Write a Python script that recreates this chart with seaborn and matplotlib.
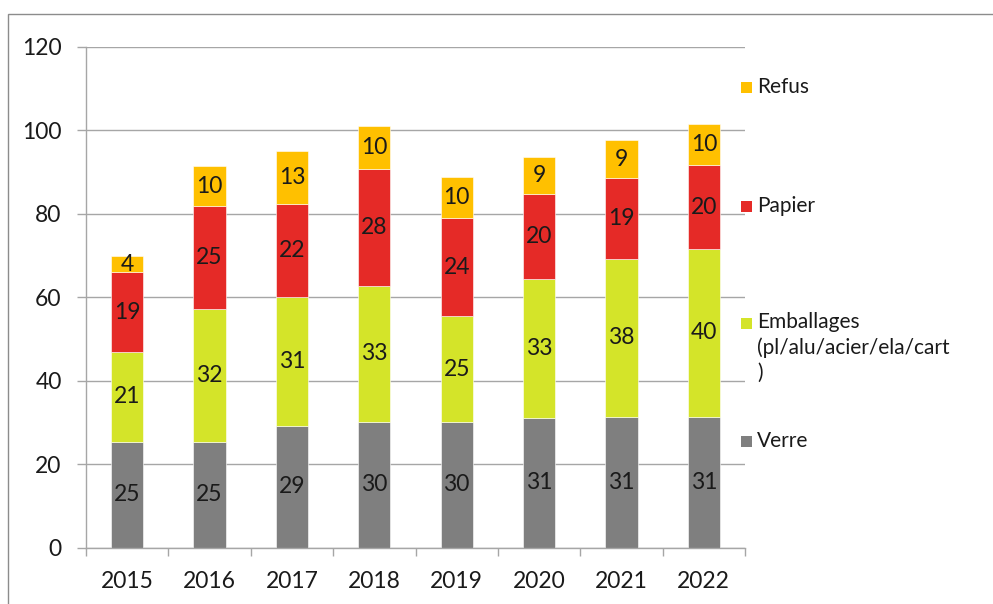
import matplotlib
matplotlib.use("Agg")
import matplotlib.pyplot as plt
import seaborn as sns
import pandas as pd
import numpy as np
from matplotlib.patches import Rectangle

years = ["2015", "2016", "2017", "2018", "2019", "2020", "2021", "2022"]
verre = [25.4, 25.4, 29.2, 30.2, 30.2, 31.1, 31.4, 31.4]
emballages = [21.4, 31.8, 30.8, 32.6, 25.2, 33.2, 37.7, 40.2]
papier = [19.3, 24.6, 22.4, 27.9, 23.6, 20.5, 19.4, 20.0]
refus = [3.7, 9.6, 12.6, 10.4, 9.8, 8.9, 9.2, 9.8]

series_names = ["Verre", "Emballages\n(pl/alu/acier/ela/cart\n)", "Papier", "Refus"]
series_vals = [verre, emballages, papier, refus]
colors = ["#7f7f7f", "#d4e429", "#e52a27", "#ffc000"]

sns.set_theme(style="white")
plt.rcParams["font.family"] = ["Lato", "DejaVu Sans"]

fig = plt.figure(figsize=(9.93, 6.04), dpi=100)
ax = fig.add_axes([86 / 993, 1 - 547.7 / 604, (745 - 86) / 993, (547.7 - 46.7) / 604])

df = pd.DataFrame({"year": years})
bottom = np.zeros(len(years))
for name, vals, col in zip(series_names, series_vals, colors):
    df["v"] = vals
    sns.barplot(data=df, x="year", y="v", bottom=bottom, color=col, width=0.39,
                saturation=1, ax=ax, edgecolor="white", linewidth=0.4)
    bottom = bottom + np.array(vals)

for cont in ax.containers:
    ax.bar_label(cont, labels=[f"{v:.0f}" for v in cont.datavalues], label_type="center",
                 fontsize=16.5, color="#1a1a1a")

ax.set_ylim(0, 120)
ax.set_xlim(-0.5, 7.5)
ax.set_yticks(range(0, 121, 20))
ax.set_xlabel("")
ax.set_ylabel("")
ax.yaxis.grid(True, color="#a6a6a6", linewidth=1)
ax.set_axisbelow(True)
for s in ["top", "right"]:
    ax.spines[s].set_visible(False)
for s in ["left", "bottom"]:
    ax.spines[s].set_color("#a6a6a6")
    ax.spines[s].set_linewidth(1)
ax.tick_params(axis="y", length=6.5, width=1, color="#a6a6a6", pad=11, labelsize=16.5,
               labelcolor="#1a1a1a", left=True)
ax.set_xticks(np.arange(8))
ax.set_xticklabels(years)
ax.tick_params(axis="x", length=0, pad=17, labelsize=16.5, labelcolor="#1a1a1a")
ax.set_xticks(np.arange(-0.5, 8, 1), minor=True)
ax.tick_params(axis="x", which="minor", length=6, width=1, color="#a6a6a6", bottom=True)

# legend (manual placement to match the reference layout)
leg_items = [("Refus", colors[3], 87), ("Papier", colors[2], 206),
             (series_names[1], colors[1], 323), ("Verre", colors[0], 441)]
for label, col, ypix in leg_items:
    fig.patches.append(Rectangle((741 / 993, 1 - (ypix + 6) / 604), 11 / 993, 11 / 604,
                                 transform=fig.transFigure, facecolor=col, edgecolor="none"))
    if "\n" in label:
        fig.text(757 / 993, 1 - (ypix - 11) / 604, label, fontsize=15, va="top", ha="left",
                 color="#1a1a1a", linespacing=1.3, transform=fig.transFigure)
    else:
        fig.text(757 / 993, 1 - ypix / 604, label, fontsize=15, va="center", ha="left",
                 color="#1a1a1a", transform=fig.transFigure)

# outer chart border
fig.patches.append(Rectangle((8 / 993, -0.1), 1.2, 1 - 14 / 604 + 0.1, transform=fig.transFigure,
                             fill=False, edgecolor="#8c8c8c", linewidth=1, clip_on=False))

fig.savefig("out.png", dpi=100)
